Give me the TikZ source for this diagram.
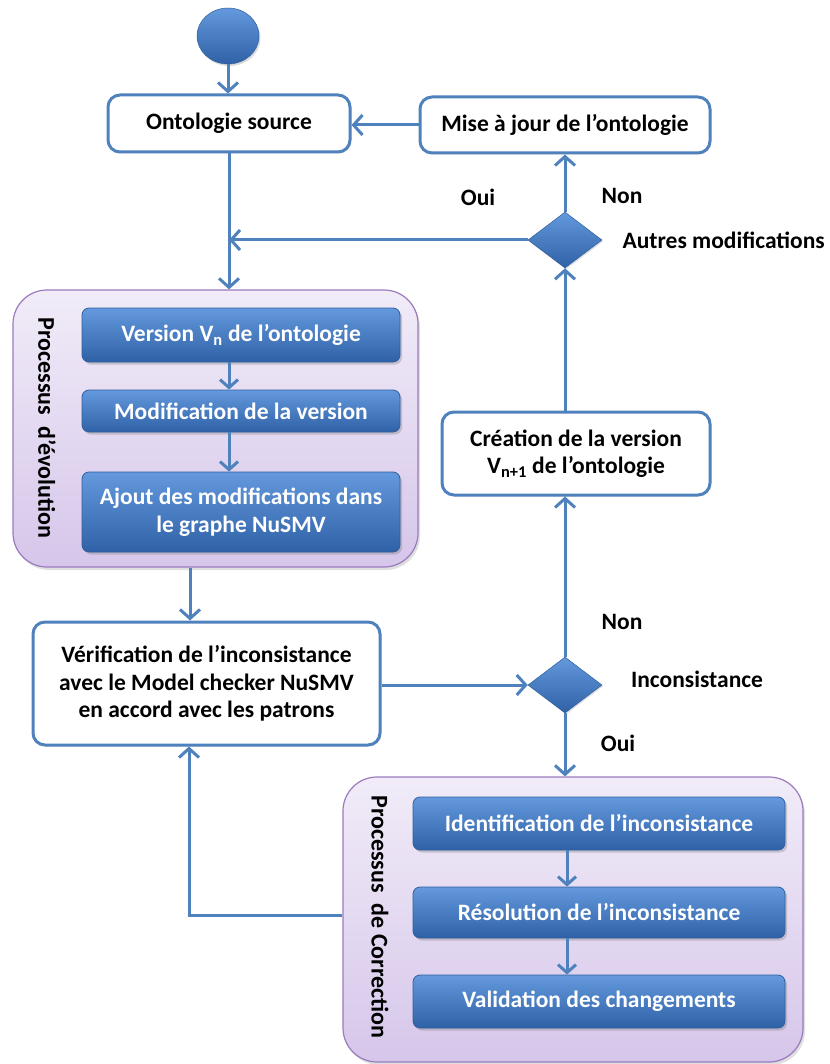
\documentclass[tikz,border=0pt]{standalone}
\usepackage{fontspec}
\setmainfont{Carlito}
\usetikzlibrary{arrows.meta,shapes.geometric,shadows}
\definecolor{lnblue}{HTML}{4F81BD}
\definecolor{btop}{HTML}{6499DD}
\definecolor{bmid}{HTML}{3F77C4}
\definecolor{bbot}{HTML}{2F61A6}
\definecolor{bbord}{HTML}{2F5F9F}
\definecolor{gtop}{HTML}{F1ECF8}
\definecolor{gbot}{HTML}{D6C6EA}
\definecolor{gbord}{HTML}{9A7BBE}
\tikzset{
  wbox/.style={draw=lnblue, line width=3pt, rounded corners=12pt, fill=white, align=center, inner sep=0pt,
    drop shadow={shadow xshift=1.5pt, shadow yshift=-1.5pt, opacity=0.15}},
  bbox/.style={draw=bbord, line width=0.8pt, rounded corners=7pt, top color=btop, middle color=bmid, bottom color=bbot,
    text=white, align=center, inner sep=0pt, drop shadow={shadow xshift=2pt, shadow yshift=-2.5pt, opacity=0.35}},
  grp/.style={draw=gbord, line width=1.2pt, rounded corners=34pt, top color=gtop, bottom color=gbot, inner sep=0pt,
    drop shadow={shadow xshift=2pt, shadow yshift=-3pt, opacity=0.25}},
  dec/.style={diamond, top color=btop, middle color=bmid, bottom color=bbot, draw=bbord, line width=0.5pt, inner sep=0pt,
    minimum width=74pt, minimum height=56pt, drop shadow={shadow xshift=1pt, shadow yshift=-1.5pt, opacity=0.25}},
  conn/.style={draw=lnblue, line width=3pt, -{Straight Barb[length=9pt,width=20pt]}},
  iconn/.style={draw=lnblue, line width=3pt, -{Straight Barb[length=8pt,width=18pt]}},
  lbl/.style={inner sep=0pt},
  vlbl/.style={inner sep=0pt, rotate=-90, font=\fontsize{24}{28}\selectfont\bfseries}
}
\begin{document}
\begin{tikzpicture}[x=1pt,y=-1pt,font=\fontsize{23.5}{27.5}\selectfont\bfseries]
\useasboundingbox (0,0) rectangle (829,1064);

% groups
\node[grp, minimum width=405pt, minimum height=277pt] (g1) at (215.5,428.5) {};
\node[grp, minimum width=460pt, minimum height=285pt] (g2) at (573,919.5) {};

% start
\node[ellipse, minimum width=62pt, minimum height=56pt, inner sep=0pt, top color=btop, middle color=bmid, bottom color=bbot, draw=bbord, line width=0.5pt,
  drop shadow={shadow xshift=1.5pt, shadow yshift=-2pt, opacity=0.3}] (start) at (228,36) {};

% white boxes
\node[wbox, minimum width=242pt, minimum height=57pt] (src) at (229,123.5) {Ontologie source};
\node[wbox, minimum width=290pt, minimum height=56pt] (maj) at (565,125) {Mise à jour de l’ontologie};
\node[wbox, minimum width=268pt, minimum height=83pt] (cre) at (576,453.5) {Création de la version\\V\textsubscript{n+1} de l’ontologie};
\node[wbox, minimum width=347pt, minimum height=123pt] (ver) at (206.5,683.5) {Vérification de l’inconsistance\\avec le Model checker NuSMV\\en accord avec les patrons};

% decisions
\node[dec] (d1) at (565,240) {};
\node[dec] (d2) at (565,685) {};

% inner boxes evolution
\node[bbox, minimum width=318pt, minimum height=54pt] (v) at (241,335) {Version V\textsubscript{n} de l’ontologie};
\node[bbox, minimum width=318pt, minimum height=42pt] (mod) at (241,411) {Modification de la version};
\node[bbox, minimum width=318pt, minimum height=80pt] (aj) at (241,512) {Ajout des modifications dans\\le graphe NuSMV};

% inner boxes correction
\node[bbox, minimum width=372pt, minimum height=53pt] (id) at (599,823.5) {Identification de l’inconsistance};
\node[bbox, minimum width=372pt, minimum height=51pt] (res) at (599,912.5) {Résolution de l’inconsistance};
\node[bbox, minimum width=372pt, minimum height=53pt] (val) at (599,1001.5) {Validation des changements};

% vertical labels
\node[vlbl] (t1) at (47,428) {Processus\ \ d’évolution};
\node[vlbl] (t2) at (380,917) {Processus\ \ de Correction};

% labels
\node[lbl] (oui1) at (478,197) {Oui};
\node[lbl] (non1) at (622,196) {Non};
\node[lbl, anchor=east] (am) at (825,240) {Autres modifications};
\node[lbl] (non2) at (622,622) {Non};
\node[lbl] (inc) at (697,679) {Inconsistance};
\node[lbl] (oui2) at (618,743) {Oui};

% connectors
\draw[conn] (start.south) -- (start.south |- src.north);
\draw[conn] (src.south) -- (src.south |- g1.north);
\coordinate (j1) at (src.south |- d1.west);
\draw[conn] (d1.west) -- (j1);
\draw[conn] (d1.north) -- (maj.south);
\draw[conn] (maj.west) -- (maj.west -| src.east);
\draw[conn] (d1.south |- cre.north) -- (d1.south);
\draw[conn] (d2.north) -- (d2.north |- cre.south);
\draw[conn] (ver.east |- d2.west) -- (d2.west);
\draw[conn] (d2.south) -- (d2.south |- g2.north);
\draw[conn] ([xshift=-25.5pt]g1.south) -- ([xshift=-25.5pt]g1.south |- ver.north);
\draw[conn] ([yshift=4.5pt]g2.west) -| ([xshift=-17.5pt]ver.south);

\draw[iconn] ([xshift=-12pt]v.south) -- ([xshift=-12pt]mod.north);
\draw[iconn] ([xshift=-12pt]mod.south) -- ([xshift=-12pt]aj.north);
\draw[iconn] ([xshift=-32pt]id.south) -- ([xshift=-32pt]res.north);
\draw[iconn] ([xshift=-32pt]res.south) -- ([xshift=-32pt]val.north);
\end{tikzpicture}
\end{document}
